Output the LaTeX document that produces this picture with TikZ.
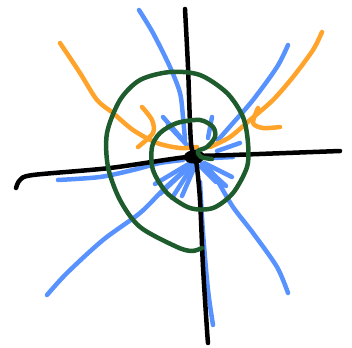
\documentclass[tikz,border=0pt]{standalone}
\usepackage{tikz}
\definecolor{penblue}{RGB}{88,146,255}
\definecolor{penorange}{RGB}{255,163,43}
\definecolor{pengreen}{RGB}{30,92,46}
\tikzset{
  stroke/.style={line width=4.5pt, line cap=round, line join=round},
  bluepen/.style={stroke, penblue},
  orangepen/.style={stroke, penorange},
  greenpen/.style={stroke, pengreen},
  blackpen/.style={stroke, black}
}
\begin{document}
\begin{tikzpicture}[x=1pt,y=-1pt]
        \useasboundingbox (0,0) rectangle (352,347);
        %Blue lines
        \draw[bluepen] plot[smooth] coordinates {(139,10) (153,33) (170,67) (180,93) (183,117) (185,140)};
        \draw[bluepen] plot[smooth] coordinates {(288,45) (277,67) (253,100) (233,123) (218,140)};
        \draw[bluepen] plot[smooth] coordinates {(58,180) (100,177) (133,170) (160,163) (183,160)};
        \draw[bluepen] plot[smooth] coordinates {(47,295) (67,273) (103,240) (140,213) (163,190) (185,170)};
        \draw[bluepen] plot[smooth] coordinates {(200,182) (203,233) (208,290) (213,325)};
        \draw[bluepen] plot[smooth] coordinates {(288,293) (277,267) (253,233) (233,207) (217,180) (208,167)};
        %Short strokes
        \draw[bluepen] (163,117) -- (183,140);
        \draw[bluepen] (168,125) -- (187,145);
        \draw[bluepen] (212,117) -- (208,138);
        \draw[bluepen] (240,143) -- (217,151);
        \draw[bluepen] (233,157) -- (213,158);
        \draw[bluepen] (192,162) -- (155,184);
        \draw[bluepen] (192,164) -- (160,194);
        \draw[bluepen] (193,165) -- (172,198);
        \draw[bluepen] (195,166) -- (182,196);
        \draw[bluepen] (200,166) -- (216,182);
        \draw[bluepen] (202,164) -- (226,186);
        \draw[bluepen] (204,163) -- (232,177);
        %Orange lines
        \draw[orangepen] plot[smooth] coordinates {(60,43) (80,73) (97,100) (113,113) (133,130) (157,143) (180,148) (197,147)};
        \draw[orangepen] plot[smooth] coordinates {(142,107) (152,120) (153,133) (138,147)};
        \draw[orangepen] plot[smooth] coordinates {(322,32) (313,50) (293,77) (273,100) (250,120) (230,137) (210,147)};
        \draw[orangepen] plot[smooth] coordinates {(258,108) (253,123) (263,128) (280,127)};
        %Axes
        \draw[blackpen] plot[smooth] coordinates {(185,9) (188,67) (191,143) (196,160) (200,200) (203,267) (207,330) (208,343)};
        \draw[blackpen] plot[smooth] coordinates {(16,188) (20,180) (33,175) (110,168) (187,157) (233,155) (340,151)};
        \fill[rounded corners=2pt] (186,152) -- (198,149) -- (207,156) -- (199,164) -- (188,163) -- (183,158) -- cycle;
        %Spiral
        \draw[greenpen] plot[smooth] coordinates {(202,248) (192,251) (177,247) (140,227) (120,200) (108,167) (107,133) (120,100) (140,80) (170,72) (200,75) (227,93) (243,117) (248,143) (247,167) (233,193) (213,208) (190,208) (167,193) (153,170) (152,147) (160,133) (177,123) (200,120) (213,127) (215,137) (207,147) (198,151) (201,157) (212,159)};
\end{tikzpicture}
\end{document}
